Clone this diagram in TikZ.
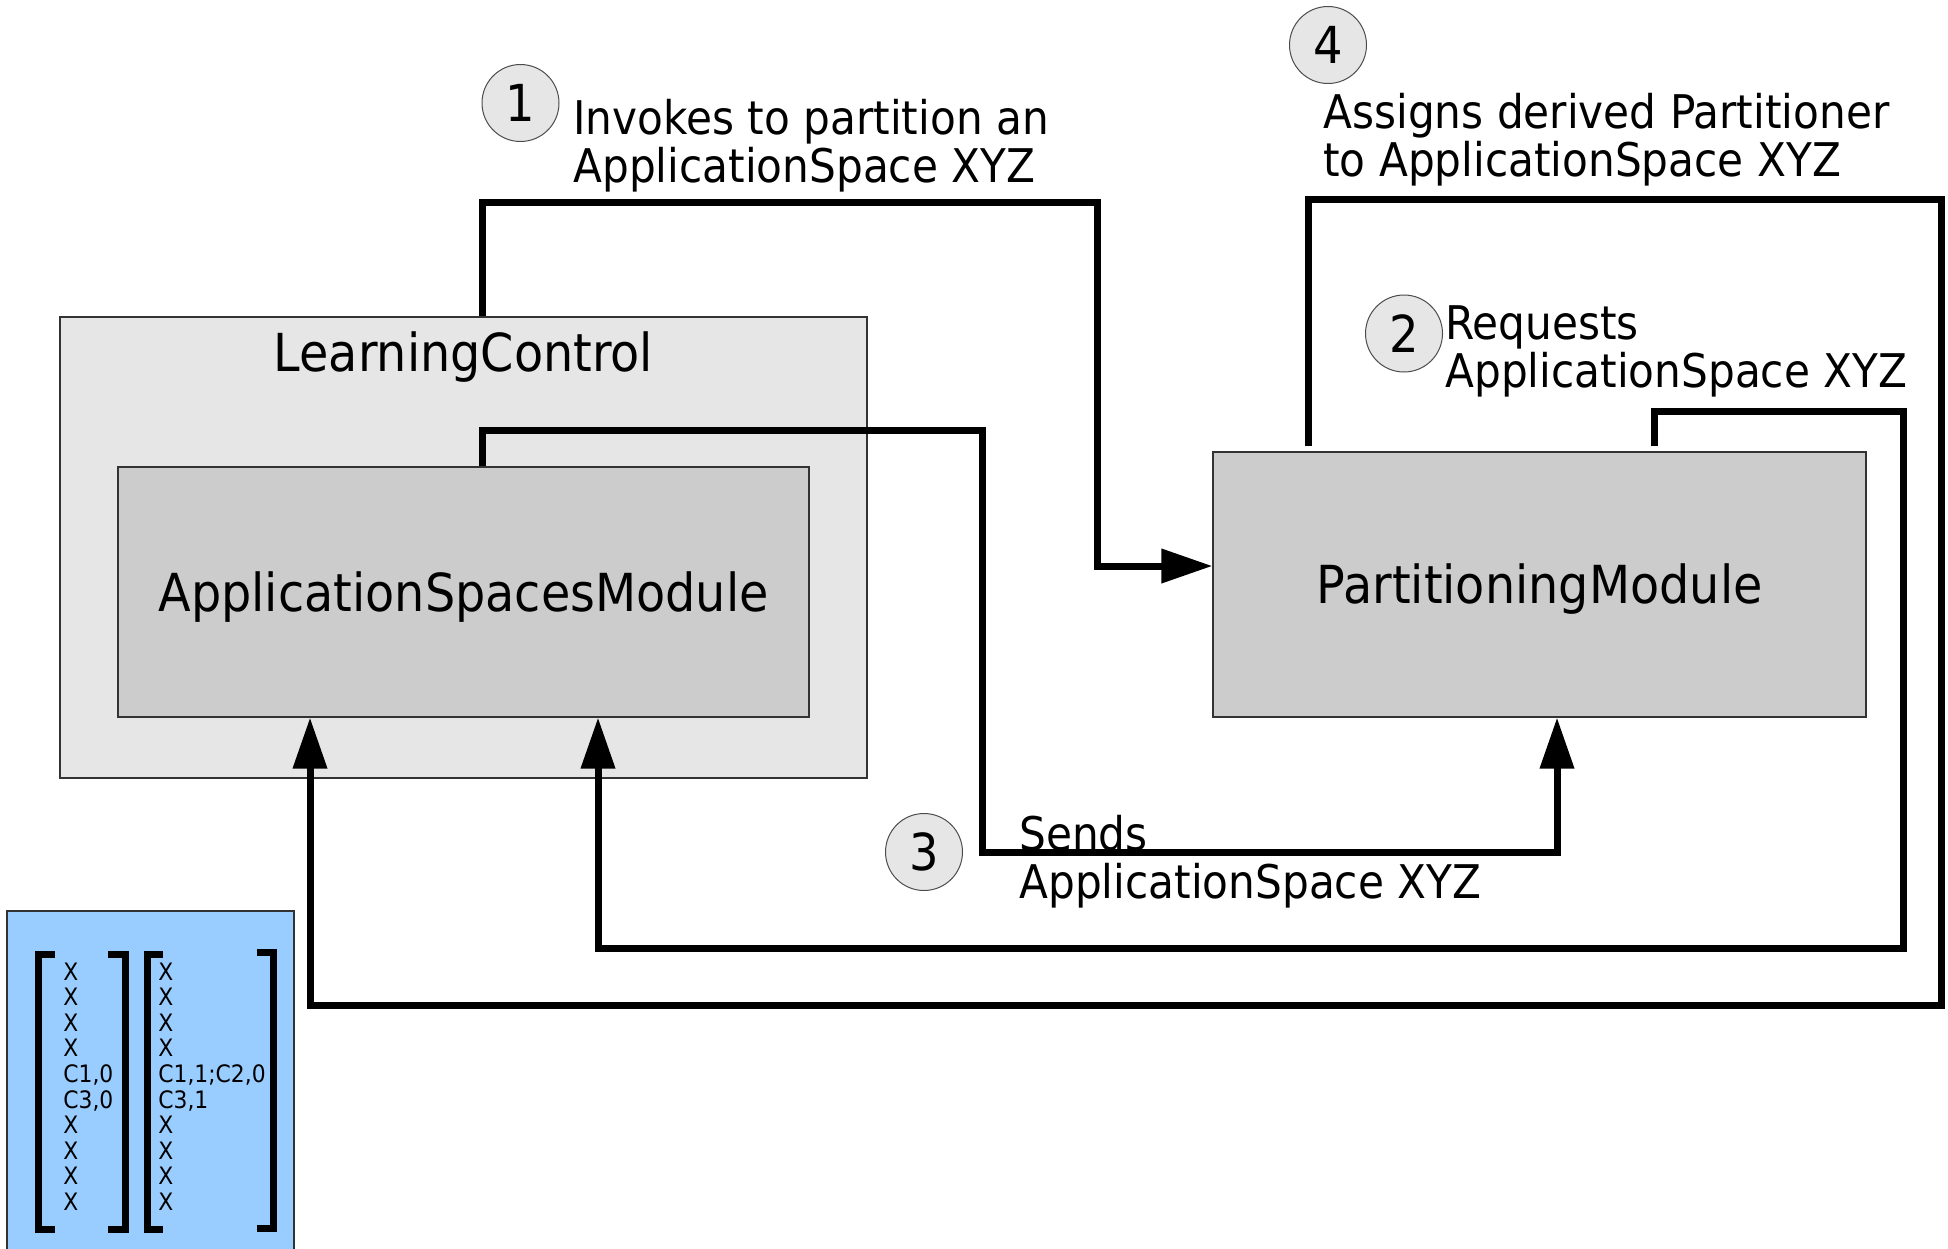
\documentclass[tikz,border=0pt]{standalone}
\usepackage{fontspec}
\setmainfont[FakeStretch=0.91]{DejaVu Sans}
\usetikzlibrary{arrows.meta,calc}
\definecolor{lcgray}{HTML}{E6E6E6}
\definecolor{modgray}{HTML}{CCCCCC}
\definecolor{matblue}{HTML}{99CCFF}
\definecolor{numgray}{HTML}{E6E6E6}
\begin{document}
\begin{tikzpicture}[x=0.5pt,y=-0.5pt,
  conn/.style={line width=3.5pt, line join=miter},
  arr/.style={conn, -{Triangle[length=25.5pt,width=16.5pt]}},
  box/.style={draw=black!80, line width=0.6pt, inner sep=0pt, rectangle},
  num/.style={circle, draw=black!70, line width=0.5pt, fill=numgray, minimum size=38.5pt, inner sep=0pt, font=\fontsize{25.5}{30}\selectfont},
  lbl/.style={anchor=base west, align=left, inner sep=0pt, font=\fontsize{23.2}{24}\selectfont},
  big/.style={font=\fontsize{26.2}{30}\selectfont},
  modtext/.style={big, text height=22pt, text depth=3pt},
  mat/.style={anchor=base west, align=left, inner sep=0pt, font=\fontsize{12}{12.8}\selectfont},
  brk/.style={line width=3.5pt, line cap=butt, line join=miter}]
\useasboundingbox (0,0) rectangle (1948,1248);
\clip (0,0) rectangle (1948,1248);
\fill[white] (0,0) rectangle (1948,1248);

% boxes
\node[box, fill=lcgray, minimum width=403.5pt, minimum height=230.5pt] (lc) at (463.5,547.5) {};
\node[big, anchor=base, inner sep=0pt] (lct) at (463.5,371) {LearningControl};
\node[box, fill=modgray, minimum width=345.5pt, minimum height=125pt, modtext] (asm) at (463.5,592) {ApplicationSpacesModule};
\node[box, fill=modgray, minimum width=326.5pt, minimum height=132.5pt, modtext] (pm) at (1539.5,584.5) {PartitioningModule};

% matrix box
\node[box, fill=matblue, minimum width=143.5pt, minimum height=175.5pt] (mb) at (150.5,1086.5) {};
\draw[brk] (55,954) -- (38,954) -- (38,1229) -- (55,1229);
\draw[brk] (108,954) -- (125,954) -- (125,1229) -- (108,1229);
\draw[brk] (163,954) -- (147,954) -- (147,1229) -- (163,1229);
\draw[brk] (257,952) -- (273,952) -- (273,1228) -- (257,1228);
\node[mat] (m1) at (63,1210.5) {X\\X\\X\\X\\C1,0\\C3,0\\X\\X\\X\\X};
\node[mat] (m2) at (158,1210.5) {X\\X\\X\\X\\C1,1;C2,0\\C3,1\\X\\X\\X\\X};

% connectors
\draw[arr] ($(lc.north)+(18.5,0)$) |- (1097,202) |- ($(pm.west)+(0,-18.5)$);
\draw[arr] ($(asm.north)+(18.5,0)$) |- (982,430) |- (1557,852) -- ($(pm.south)+(17.5,0)$);
\draw[arr] ($(pm.north)+(114.5,-5)$) |- (1903,411) |- (598,948) -- ($(asm.south)+(134.5,0)$);
\draw[arr] ($(pm.north)+(-231.5,-5)$) |- (1941,199) |- (310,1005) -- ($(asm.south)+(-153.5,0)$);

% numbers
\node[num] (n1) at (520.5,103) {1};
\node[num] (n2) at (1404,333.5) {2};
\node[num] (n3) at (924,852) {3};
\node[num] (n4) at (1328,45) {4};

% labels
\node[lbl] (l1) at (573,182) {Invokes to partition an\\ApplicationSpace XYZ};
\node[lbl] (l4) at (1323,176) {Assigns derived Partitioner\\to ApplicationSpace XYZ};
\node[lbl] (l2) at (1445,387) {Requests\\ApplicationSpace XYZ};
\node[lbl] (l3) at (1019,898) {Sends\\ApplicationSpace XYZ};
\end{tikzpicture}
\end{document}
